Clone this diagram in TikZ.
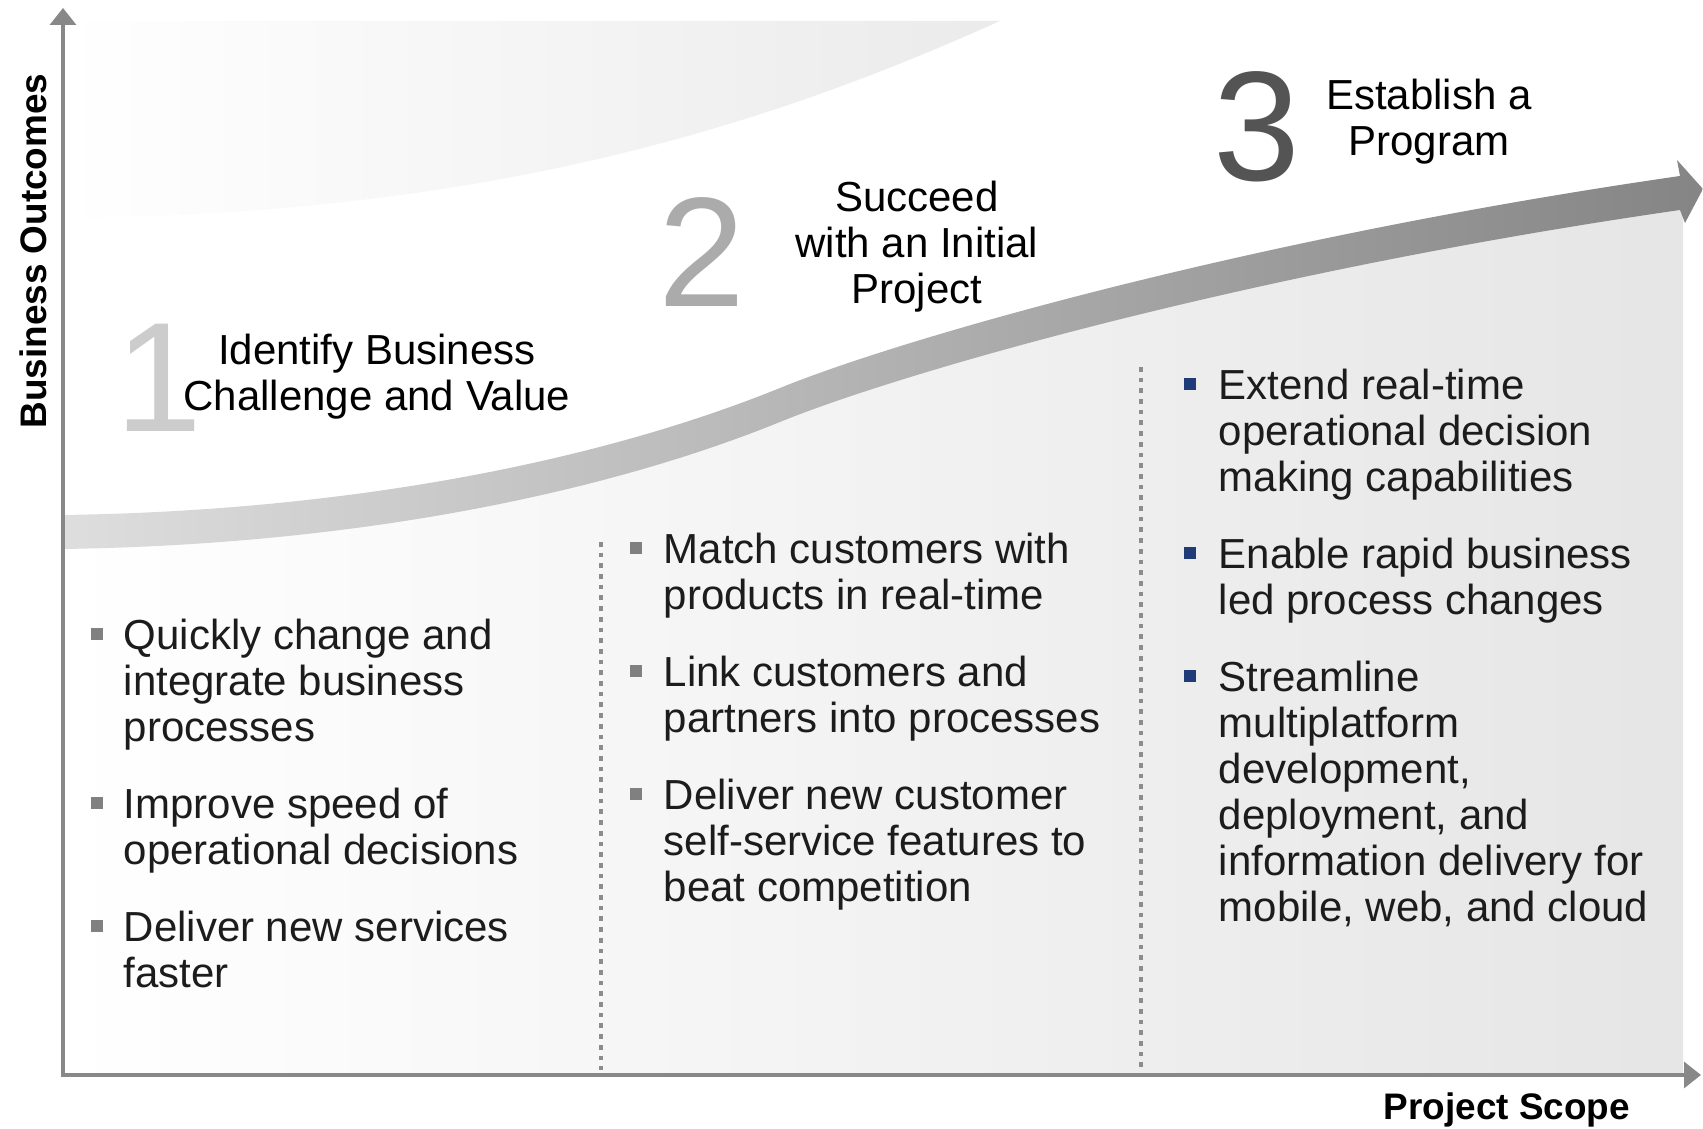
\documentclass[tikz,border=0pt]{standalone}
\usepackage{fontspec}
\setmainfont{Liberation Sans}
\usepackage{xcolor}
\usetikzlibrary{positioning, arrows.meta}
\definecolor{bulletblue}{RGB}{32,60,120}
\definecolor{axisgray}{RGB}{136,136,136}
\definecolor{inkgray}{RGB}{28,28,28}

\begin{document}
\begin{tikzpicture}[
  x=0.1mm, y=-0.1mm,
  bodytext/.style={anchor=base west, align=left, inner sep=0pt, text=inkgray,
                   font=\fontsize{11.95}{13.09}\selectfont},
  heading/.style={anchor=base, align=center, inner sep=0pt, text=black,
                  font=\fontsize{11.95}{13.09}\selectfont},
  bignum/.style={anchor=base west, inner sep=0pt,
                 font=\fontsize{44.4}{50}\selectfont},
  bulgray/.style={rectangle, fill=black!50, minimum size=1.2mm, inner sep=0pt},
  bulblue/.style={bulgray, fill=bulletblue},
  axislbl/.style={anchor=base, inner sep=0pt, text=black,
                  font=\bfseries\fontsize{10.5}{12}\selectfont},
  axisline/.style={draw=axisgray, line width=0.35mm,
                   -{Triangle[length=1.7mm, width=2.6mm]}},
  sepline/.style={draw=black!45, line width=0.45mm,
                  dash pattern=on 0.47mm off 0.6mm}
]
\useasboundingbox (0,0) rectangle (1703,1129);

% Background bands
\shade[left color=white, right color=black!8]
  (63,21) -- (1000,21) .. controls (780,120) and (500,215) .. (63,218) -- cycle;
\shade[left color=white, right color=black!10]
  (63,532) .. controls (350,528) and (600,478) .. (780,405)
  .. controls (900,356) and (1250,255) .. (1683,192)
  -- (1683,1073) -- (63,1073) -- cycle;

% Growth arrow
\shade[left color=black!13, right color=black!48]
  (63,515) .. controls (350,511) and (600,461) .. (780,388)
  .. controls (900,339) and (1250,238) .. (1680,176)
  -- (1677,160) -- (1703,189) -- (1685,223) -- (1680,210)
  .. controls (1250,272) and (900,373) .. (780,422)
  .. controls (600,495) and (350,545) .. (63,549) -- cycle;

% Column separators
\draw[sepline] (601,542) -- (601,1070);
\draw[sepline] (1141,367) -- (1141,1070);

% Axes
\coordinate (origin) at (63,1075);
\coordinate (ytop) at (63,8);
\coordinate (xend) at (1701,1075);
\draw[axisline] ([yshift=-0.2mm]origin) -- (ytop);
\draw[axisline] (origin) -- (xend);
\node[axislbl, rotate=90] (ylbl) at (46,251) {Business Outcomes};
\node[axislbl] (xlbl) at (1507,1120) {Project Scope};

% Stage headings (base = last line)
\node[bignum, text=black!20] (n1) at (115,432) {1};
\node[heading] (h1) at (377,411) {Identify Business\\Challenge and Value};
\node[bignum, text=black!33] (n2) at (658,307) {2};
\node[heading] (h2) at (917,304) {Succeed\\with an Initial\\Project};
\node[bignum, text=black!67] (n3) at (1213,181) {3};
\node[heading] (h3) at (1429,156) {Establish a\\Program};

% Column 1
\node[bodytext] (c1a) at (123,742) {Quickly change and\\integrate business\\processes};
\node[bodytext] (c1b) at (123,865) {Improve speed of\\operational decisions};
\node[bodytext] (c1c) at (123,988) {Deliver new services\\faster};
\node[bulgray] (q1a) at ([shift={(-26,-108)}]c1a.base west) {};
\node[bulgray] (q1b) at ([shift={(-26,-62)}]c1b.base west) {};
\node[bulgray] (q1c) at ([shift={(-26,-62)}]c1c.base west) {};

% Column 2
\node[bodytext] (c2a) at (663,610) {Match customers with\\products in real-time};
\node[bodytext] (c2b) at (663,733) {Link customers and\\partners into processes};
\node[bodytext] (c2c) at (663,902) {Deliver new customer\\self-service features to\\beat competition};
\node[bulgray] (q2a) at ([shift={(-27,-62)}]c2a.base west) {};
\node[bulgray] (q2b) at ([shift={(-27,-62)}]c2b.base west) {};
\node[bulgray] (q2c) at ([shift={(-27,-108)}]c2c.base west) {};

% Column 3
\node[bodytext] (c3a) at (1218,492) {Extend real-time\\operational decision\\making capabilities};
\node[bodytext] (c3b) at (1218,615) {Enable rapid business\\led process changes};
\node[bodytext] (c3c) at (1218,922) {Streamline\\multiplatform\\development,\\deployment, and\\information delivery for\\mobile, web, and cloud};
\node[bulblue] (q3a) at ([shift={(-28,-108)}]c3a.base west) {};
\node[bulblue] (q3b) at ([shift={(-28,-62)}]c3b.base west) {};
\node[bulblue] (q3c) at ([shift={(-28,-246)}]c3c.base west) {};
\end{tikzpicture}
\end{document}
